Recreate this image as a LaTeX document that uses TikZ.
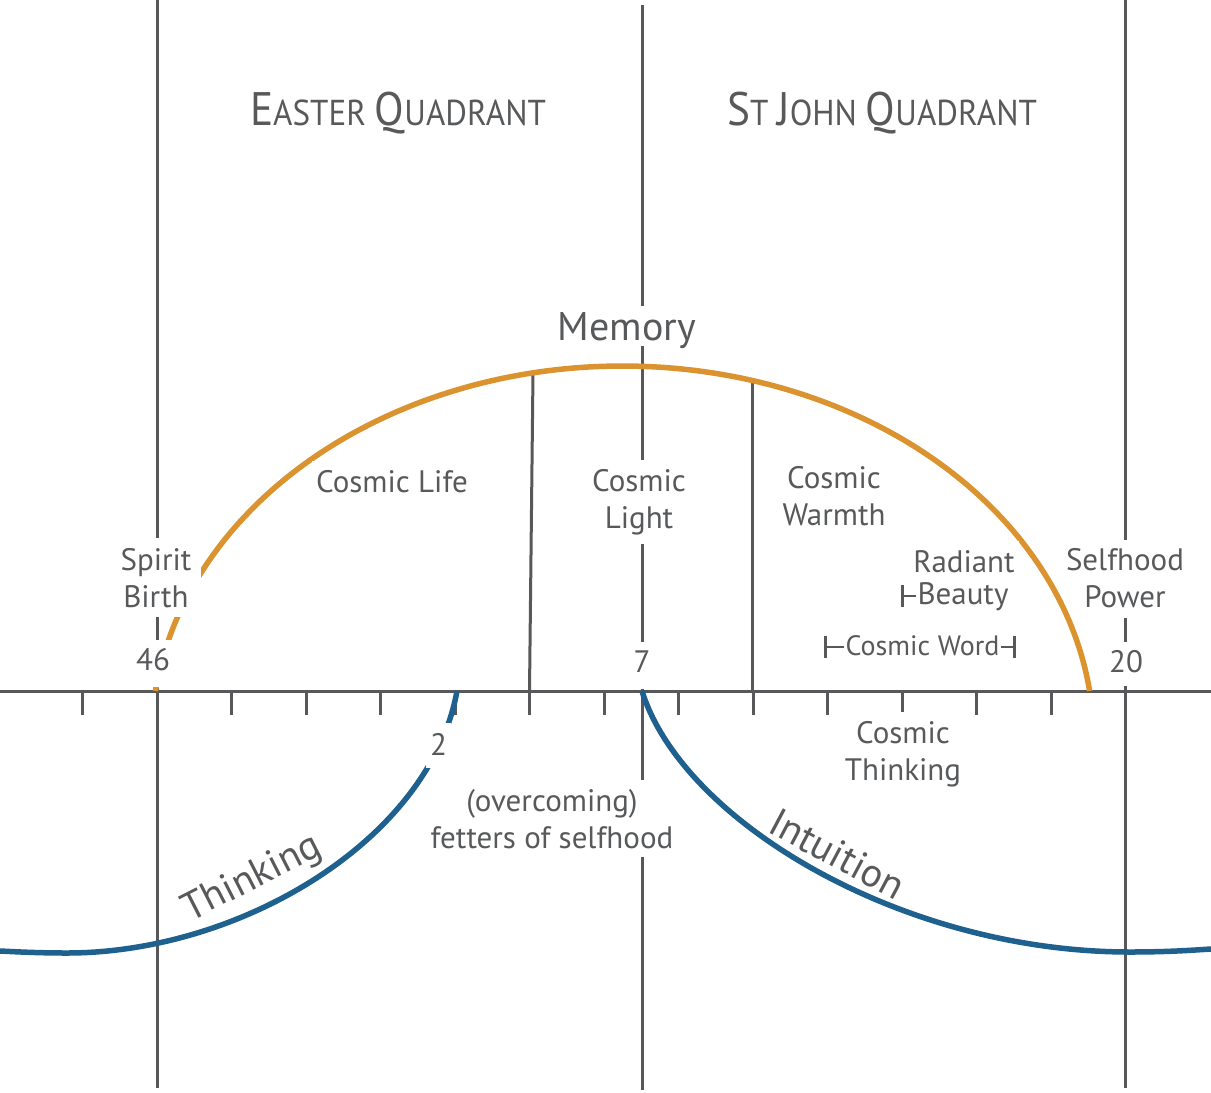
\documentclass[tikz,border=0pt]{standalone}
\usepackage{fontspec}
\setmainfont{PT Sans}
\definecolor{txtgray}{RGB}{88,89,91}
\definecolor{linegray}{RGB}{88,88,91}
\definecolor{goldline}{RGB}{218,147,46}
\definecolor{blueline}{RGB}{30,96,142}
\newcommand\qbig[1]{{\fontsize{47}{47}\selectfont #1}}
\newcommand\qsmall[1]{{\fontsize{36}{36}\selectfont #1}}
\begin{document}
\begin{tikzpicture}[x=1pt,y=-1pt,
  gl/.style={draw=linegray, line width=3pt},
  mk/.style={draw=linegray, line width=2.5pt},
  goldarc/.style={draw=goldline, line width=5.5pt},
  bluearc/.style={draw=blueline, line width=5.5pt},
  lbl/.style={fill=white, text=txtgray, align=center, anchor=base,
    font=\fontsize{31}{37}\selectfont, inner xsep=4pt, inner ysep=9pt},
  plain/.style={lbl, fill=none},
  num/.style={lbl, text depth=9pt, inner ysep=8pt},
  title/.style={text=txtgray, anchor=base, inner sep=0pt},
  curvelbl/.style={text=txtgray, anchor=base, inner sep=0pt, font=\fontsize{40}{40}\selectfont}]
\useasboundingbox (0,0) rectangle (1211,1093);
% main verticals and axis
\draw[gl] (157,0) -- (157,1088);
\draw[gl] (642,5) -- (642,1090);
\draw[gl] (1125.5,0) -- (1125.5,540);
\draw[gl] (1125.5,618) -- (1125.5,642);
\draw[gl] (1125.5,686) -- (1125.5,1088);
\draw[gl] (0,691) -- (1211,691);
\foreach \k in {-1,...,13} \draw[gl] ({157+74.5*\k},691) -- ++(0,24);
% dividers under the arc
\draw[gl] (529.5,691) -- (533,373);
\draw[gl] (752.5,691) -- (752.5,381);
% memory arc
\draw[goldarc] plot[domain=-172.47:-7.53, samples=150, smooth] ({622.5+471.2*cos(\x)},{740+374*sin(\x)});
% blue curves
\draw[bluearc] (457,691) .. controls (430,840) and (240,953) .. (67,953) .. controls (40,953) and (20,952) .. (0,951);
\draw[bluearc] (642,691) .. controls (682,820) and (900,952) .. (1130,952) .. controls (1170,952) and (1195,950) .. (1211,949);
% titles
\node[title] (easter) at (398,125) {\scalebox{0.92}[1]{\qbig{E}\qsmall{ASTER }\qbig{Q}\qsmall{UADRANT}}};
\node[title] (stjohn) at (882,125) {\scalebox{0.92}[1]{\qbig{S}\qsmall{T }\qbig{J}\qsmall{OHN }\qbig{Q}\qsmall{UADRANT}}};
% labels
\node[lbl, font=\fontsize{40}{40}\selectfont, text depth=0pt, inner ysep=6pt] (memory) at (627,340) {Memory};
\node[lbl] (life) at (392,492) {Cosmic Life};
\node[lbl] (light) at (639,528) {Cosmic\\Light};
\node[lbl] (warmth) at (834,525) {Cosmic\\Warmth};
\node[lbl, inner xsep=10pt, inner ysep=10pt] (spirit) at (156,607) {Spirit\\Birth};
\node[plain] (selfhood) at (1125,607) {Selfhood\\Power};
\node[lbl] (radiant) at (964,572) {Radiant};
\node[lbl, inner xsep=1pt] (beauty) at (963,604) {Beauty};
\node[lbl, inner xsep=1pt, font=\fontsize{28}{37}\selectfont] (cword) at (922.5,655) {Cosmic Word};
\node[lbl] (cthink) at (903,780) {Cosmic\\Thinking};
\node[lbl] (fetters) at (552,848) {(overcoming)\\fetters of selfhood};
\node[num] (n46) at (153,670) {46};
\node[num] (n7) at (642,672) {7};
\node[plain] (n20) at (1126,672) {20};
\node[lbl, text depth=3pt, inner ysep=10pt] (n2) at (438.5,755) {2};
% range markers
\draw[mk] ([yshift=8pt]beauty.base west) -- ++(-14,0);
\draw[mk] ([xshift=-14pt,yshift=19pt]beauty.base west) -- ([xshift=-14pt,yshift=-3pt]beauty.base west);
\draw[mk] ([yshift=8pt]cword.base west) -- ++(-19,0);
\draw[mk] ([xshift=-19pt,yshift=19pt]cword.base west) -- ([xshift=-19pt,yshift=-3pt]cword.base west);
\draw[mk] ([yshift=8pt]cword.base east) -- ++(14,0);
\draw[mk] ([xshift=14pt,yshift=19pt]cword.base east) -- ([xshift=14pt,yshift=-3pt]cword.base east);
% curve labels
\node[curvelbl, rotate=27] (thinking) at (257,888) {Thinking};
\node[curvelbl, rotate=-28] (intuition) at (831,866) {Intuition};
\end{tikzpicture}
\end{document}
